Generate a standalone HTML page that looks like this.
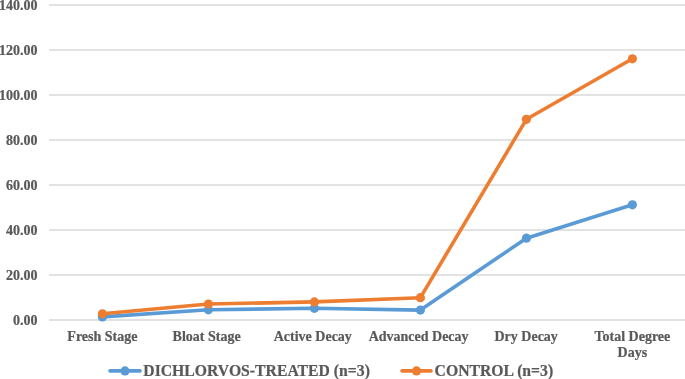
<!DOCTYPE html>
<html><head><meta charset="utf-8"><style>
html,body{margin:0;padding:0;background:#fff;width:685px;height:379px;overflow:hidden}
svg{display:block;will-change:transform}
.t{font-family:"Liberation Serif",serif;font-weight:bold;font-size:14px;fill:#595959;stroke:#595959;stroke-width:0.22px}
.l{font-family:"Liberation Serif",serif;font-weight:bold;font-size:15.72px;fill:#595959;stroke:#595959;stroke-width:0.22px}
</style></head><body>
<svg width="685" height="379" viewBox="0 0 685 379" xmlns="http://www.w3.org/2000/svg">
<line x1="49" y1="5" x2="685" y2="5" stroke="#D9D9D9" stroke-width="1.3"/>
<line x1="49" y1="50" x2="685" y2="50" stroke="#D9D9D9" stroke-width="1.3"/>
<line x1="49" y1="95" x2="685" y2="95" stroke="#D9D9D9" stroke-width="1.3"/>
<line x1="49" y1="140" x2="685" y2="140" stroke="#D9D9D9" stroke-width="1.3"/>
<line x1="49" y1="185" x2="685" y2="185" stroke="#D9D9D9" stroke-width="1.3"/>
<line x1="49" y1="230" x2="685" y2="230" stroke="#D9D9D9" stroke-width="1.3"/>
<line x1="49" y1="275" x2="685" y2="275" stroke="#D9D9D9" stroke-width="1.3"/>
<line x1="49" y1="320" x2="685" y2="320" stroke="#D9D9D9" stroke-width="1.3"/>
<text x="37.55" y="324.55" text-anchor="end" class="t">0.00</text>
<text x="37.55" y="279.55" text-anchor="end" class="t">20.00</text>
<text x="37.55" y="234.55" text-anchor="end" class="t">40.00</text>
<text x="37.55" y="189.55" text-anchor="end" class="t">60.00</text>
<text x="37.55" y="144.55" text-anchor="end" class="t">80.00</text>
<text x="37.55" y="99.55" text-anchor="end" class="t">100.00</text>
<text x="37.55" y="54.55" text-anchor="end" class="t">120.00</text>
<text x="37.55" y="9.55" text-anchor="end" class="t">140.00</text>
<text x="102.4" y="340.8" text-anchor="middle" class="t">Fresh Stage</text>
<text x="206.6" y="340.8" text-anchor="middle" class="t">Bloat Stage</text>
<text x="312.8" y="340.8" text-anchor="middle" class="t">Active Decay</text>
<text x="418.6" y="340.8" text-anchor="middle" class="t">Advanced Decay</text>
<text x="526.2" y="340.8" text-anchor="middle" class="t">Dry Decay</text>
<text x="632.4" y="340.8" text-anchor="middle" class="t">Total Degree</text>
<text x="632.4" y="356.8" text-anchor="middle" class="t">Days</text>
<polyline points="102.4,316.9 208.4,309.8 314.4,308.3 420.4,310.1 526.4,238.2 632.4,204.8" fill="none" stroke="#5B9BD5" stroke-width="3.6" stroke-linejoin="round" stroke-linecap="round"/><circle cx="102.4" cy="316.9" r="4.6" fill="#5B9BD5"/><circle cx="208.4" cy="309.8" r="4.6" fill="#5B9BD5"/><circle cx="314.4" cy="308.3" r="4.6" fill="#5B9BD5"/><circle cx="420.4" cy="310.1" r="4.6" fill="#5B9BD5"/><circle cx="526.4" cy="238.2" r="4.6" fill="#5B9BD5"/><circle cx="632.4" cy="204.8" r="4.6" fill="#5B9BD5"/>
<polyline points="102.4,313.8 208.4,304.0 314.4,301.9 420.4,297.7 526.4,119.3 632.4,58.8" fill="none" stroke="#ED7D31" stroke-width="3.6" stroke-linejoin="round" stroke-linecap="round"/><circle cx="102.4" cy="313.8" r="4.6" fill="#ED7D31"/><circle cx="208.4" cy="304.0" r="4.6" fill="#ED7D31"/><circle cx="314.4" cy="301.9" r="4.6" fill="#ED7D31"/><circle cx="420.4" cy="297.7" r="4.6" fill="#ED7D31"/><circle cx="526.4" cy="119.3" r="4.6" fill="#ED7D31"/><circle cx="632.4" cy="58.8" r="4.6" fill="#ED7D31"/>
<line x1="110" y1="370.9" x2="140" y2="370.9" stroke="#5B9BD5" stroke-width="3.6" stroke-linecap="round"/><circle cx="125" cy="370.9" r="4.6" fill="#5B9BD5"/><text x="143.3" y="375.8" class="l">DICHLORVOS-TREATED (n=3)</text>
<line x1="402" y1="370.9" x2="431" y2="370.9" stroke="#ED7D31" stroke-width="3.6" stroke-linecap="round"/><circle cx="416.5" cy="370.9" r="4.6" fill="#ED7D31"/><text x="434.6" y="375.8" class="l">CONTROL (n=3)</text>
</svg>
</body></html>
